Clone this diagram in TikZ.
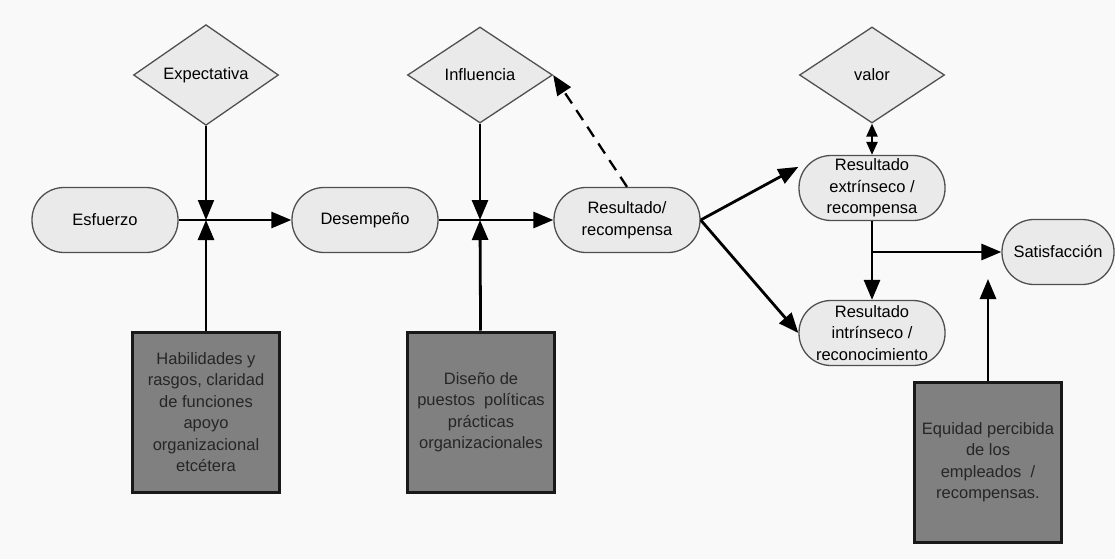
\documentclass[tikz,border=0pt]{standalone}
\usepackage{fontspec}
\setmainfont{Liberation Sans}
\usetikzlibrary{shapes.geometric, arrows.meta}

\definecolor{bgpaper}{RGB}{248,249,248}
\definecolor{pillfill}{RGB}{234,234,234}
\definecolor{edgegray}{RGB}{80,80,80}
\definecolor{boxfill}{RGB}{128,128,128}

\begin{document}
\begin{tikzpicture}[x=1pt,y=1pt,yscale=-1,xscale=1,
    font=\fontsize{16.5}{21.5}\selectfont,
    pill/.style={draw=edgegray, line width=1.3pt, fill=pillfill, rounded corners=32pt, minimum width=146pt, minimum height=65pt, align=center, inner sep=2pt},
    rombo/.style={diamond, draw=edgegray, line width=1.3pt, fill=pillfill, minimum width=145pt, minimum height=96pt, inner sep=0pt},
    caja/.style={draw=black!90, line width=3pt, fill=boxfill, minimum width=147pt, minimum height=160pt, align=center, text=black!85},
    flecha/.style={line width=2.8pt, -{Triangle[length=20pt,width=16pt]}}]
    %set diagram size to the page
    \useasboundingbox (0,0) rectangle (1115,559);
    \fill[bgpaper] (0,0) rectangle (1115,559);

    % Diamonds
    \node[rombo] (expec) at (206,75) {Expectativa};
    \node[rombo] (infl) at (480,75) {Influencia};
    \node[rombo] (valor) at (872,75) {valor};

    % Pills
    \node[pill] (esf) at (105,220) {Esfuerzo};
    \node[pill] (desem) at (365,220) {Desempeño};
    \node[pill] (res) at (627,220) {Resultado/\\recompensa};
    \node[pill] (extr) at (872,188) {Resultado\\extrínseco /\\recompensa};
    \node[pill] (intr) at (872,333) {Resultado\\intrínseco /\\reconocimiento};
    \node[pill, minimum width=112pt] (sat) at (1058,252) {Satisfacción};

    % Dark boxes
    \node[caja] (hab) at (206,412) {Habilidades y\\rasgos, claridad\\de funciones\\apoyo\\organizacional\\etcétera};
    \node[caja] (dis) at (481,412) {Diseño de\\puestos\ \ políticas\\prácticas\\organizacionales};
    \node[caja] (equi) at (988,462) {Equidad percibida\\de los\\empleados\ \ /\\recompensas.};

    % Junctions
    \coordinate (j1) at (expec |- esf);
    \coordinate (j2) at (infl |- desem);
    \coordinate (j3) at (extr |- sat);
    \coordinate (satin) at (988,279);

    % Connectors
    \draw[flecha] (esf) -- (desem);
    \draw[flecha, line width=2pt] (expec) -- (j1);
    \draw[flecha] (hab) -- (j1);
    \draw[flecha] (desem) -- (res);
    \draw[flecha] (infl) -- (j2);
    \draw[flecha] (dis) -- (j2);
    \draw[flecha, dash pattern=on 12pt off 8pt, line width=2.3pt] (res.north) -- (infl.east);
    \draw[flecha] (res.east) -- (extr.164);
    \draw[flecha] (res.east) -- (intr.west);
    \draw[line width=2.4pt, {Triangle[length=13pt,width=11pt]}-{Triangle[length=13pt,width=11pt]}] (valor.south) -- (extr.north);
    \draw[flecha] (extr) -- (intr);
    \draw[flecha] (j3) -- (sat);
    \draw[flecha] (equi) -- (satin);

\end{tikzpicture}
\end{document}
